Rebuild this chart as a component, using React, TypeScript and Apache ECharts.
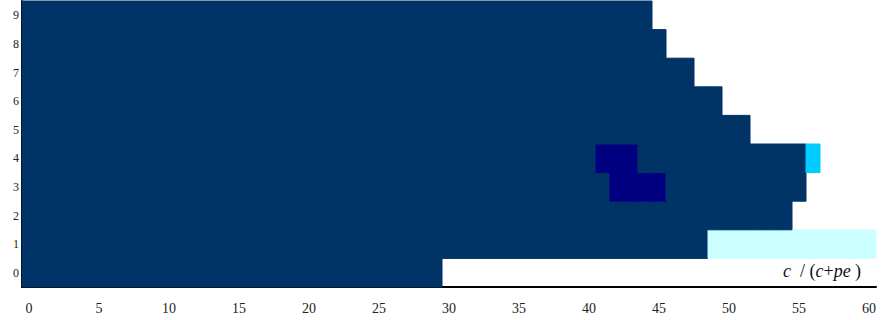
import React, { useEffect, useRef } from "react";
import * as echarts from "echarts";

// Column categories 0..60 and row categories 0..9
const xCategories: string[] = Array.from({ length: 61 }, (_, i) => String(i));
const yCategories: string[] = ["0", "1", "2", "3", "4", "5", "6", "7", "8", "9"];

// Cell classes: 1 = main region, 2 = dark pocket, 3 = bright edge cell, 4 = pale band
const classColors: Record<number, string> = {
  1: "#003366",
  2: "#000080",
  3: "#00CCFF",
  4: "#CCFFFF",
};

// Each row as runs of [class, length]; class 0 is an empty cell
const row0: [number, number][] = [[1, 30], [0, 31]];
const row1: [number, number][] = [[1, 49], [4, 12]];
const row2: [number, number][] = [[1, 55], [0, 6]];
const row3: [number, number][] = [[1, 42], [2, 4], [1, 10], [0, 5]];
const row4: [number, number][] = [[1, 41], [2, 3], [1, 12], [3, 1], [0, 4]];
const row5: [number, number][] = [[1, 52], [0, 9]];
const row6: [number, number][] = [[1, 50], [0, 11]];
const row7: [number, number][] = [[1, 48], [0, 13]];
const row8: [number, number][] = [[1, 46], [0, 15]];
const row9: [number, number][] = [[1, 45], [0, 16]];

const rows = [row0, row1, row2, row3, row4, row5, row6, row7, row8, row9];

// Expand the runs into [x, y, class] cells
function buildCells(): [number, number, number][] {
  const cells: [number, number, number][] = [];
  rows.forEach((runs, y) => {
    let x = 0;
    runs.forEach(([cls, len]) => {
      for (let k = 0; k < len; k++) {
        if (cls !== 0) cells.push([x + k, y, cls]);
      }
      x += len;
    });
  });
  return cells;
}

const SERIF = "Liberation Serif";

export default function App() {
  const ref = useRef<HTMLDivElement>(null);

  useEffect(() => {
    document.body.style.margin = "0";
    if (!ref.current) return;
    const chart = echarts.init(ref.current, undefined, { renderer: "svg" });

    const cells = buildCells();

    chart.setOption({
      animation: false,
      backgroundColor: "#ffffff",
      textStyle: { fontFamily: SERIF },
      grid: { left: 22, right: 8, top: 1, bottom: 33, containLabel: false },
      xAxis: {
        type: "category",
        data: xCategories,
        boundaryGap: true,
        axisLine: { show: true, lineStyle: { color: "#000", width: 2 } },
        axisTick: { show: false },
        splitLine: { show: false },
        axisLabel: {
          interval: 4,
          margin: 14,
          color: "#222",
          fontSize: 14,
          fontFamily: SERIF,
        },
      },
      yAxis: {
        type: "category",
        data: yCategories,
        boundaryGap: true,
        axisLine: { show: true, lineStyle: { color: "#000", width: 2 } },
        axisTick: { show: false },
        splitLine: { show: false },
        axisLabel: {
          margin: 3,
          color: "#222",
          fontSize: 12,
          fontFamily: SERIF,
          padding: [14, 0, 0, 0],
        },
      },
      series: [
        {
          type: "custom",
          data: cells,
          encode: { x: 0, y: 1 },
          renderItem: (params: any, api: any) => {
            const x = api.value(0);
            const y = api.value(1);
            const cls = api.value(2);
            const p0 = api.coord([x, y]);
            const size = api.size([1, 1]);
            const color = classColors[cls];
            return {
              type: "rect",
              shape: {
                x: p0[0] - size[0] / 2,
                y: p0[1] - size[1] / 2,
                width: size[0],
                height: size[1],
              },
              style: { fill: color, stroke: color, lineWidth: 1 },
            };
          },
          z: 1,
        },
      ],
      graphic: [
        {
          type: "text",
          left: 783,
          top: 262,
          z: 10,
          style: {
            text: "{i|c}  / ({i|c}+{i|pe} )",
            fill: "#111",
            fontSize: 18,
            fontFamily: SERIF,
            rich: {
              i: { fontStyle: "italic", fontSize: 18, fontFamily: SERIF, fill: "#111" },
            },
          },
        },
      ],
    });

    return () => chart.dispose();
  }, []);

  return <div ref={ref} style={{ width: 884, height: 320 }} />;
}
